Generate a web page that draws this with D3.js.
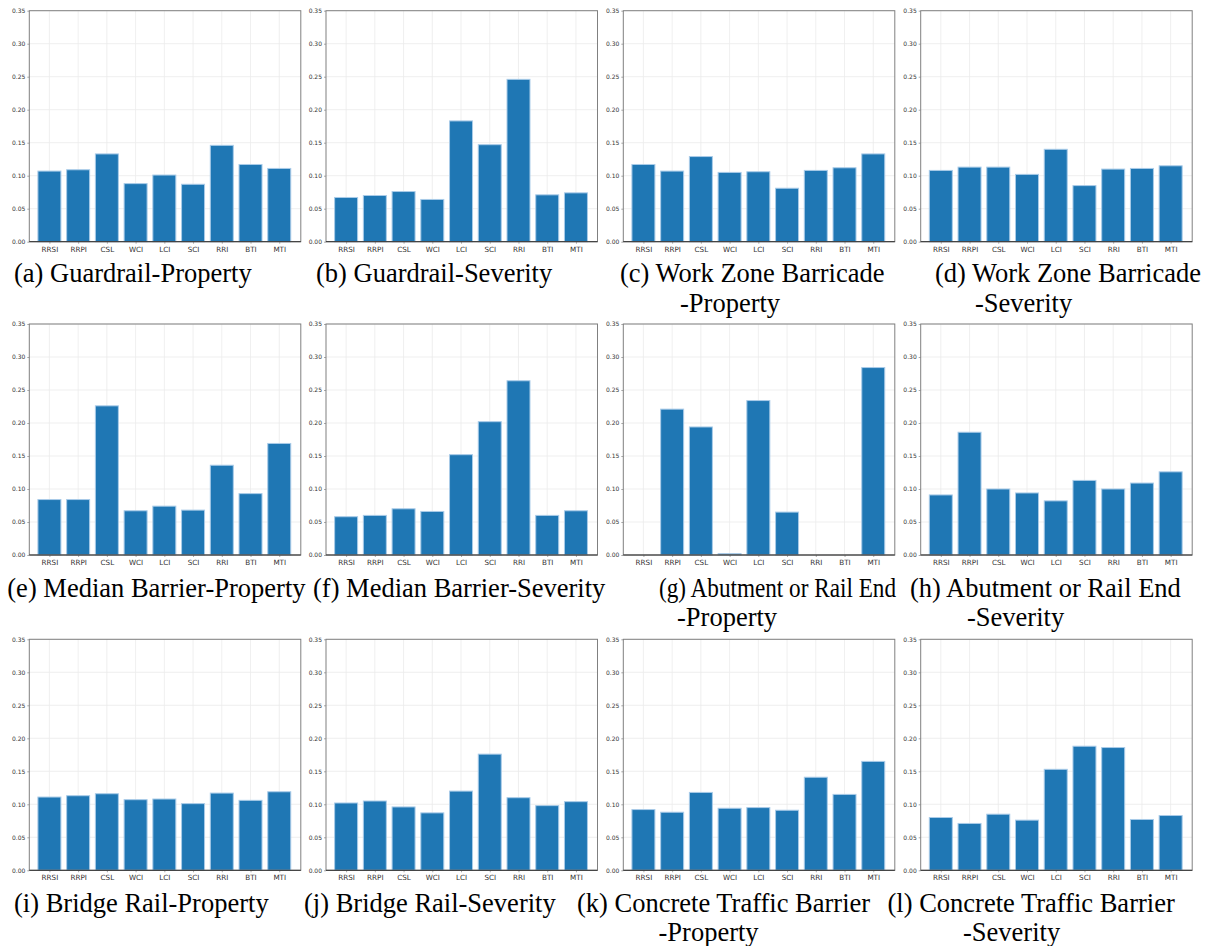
<!DOCTYPE html>
<html>
<head>
<meta charset="utf-8">
<script src="https://cdn.jsdelivr.net/npm/d3@7"></script>
<style>
  html, body { margin: 0; padding: 0; background: #fff; }
  svg { display: block; }
  .caption { font-family: "Liberation Serif", "Times New Roman", Times, "DejaVu Serif", serif; font-size: 26.5px; fill: #000; }
  .tick text { font-family: "DejaVu Sans", sans-serif; fill: #333; }
</style>
</head>
<body>
<script>
// Indicator names shared by every panel
const categories = ["RRSI", "RRPI", "CSL", "WCI", "LCI", "SCI", "RRI", "BTI", "MTI"];
const yTickValues = [0, 0.05, 0.10, 0.15, 0.20, 0.25, 0.30, 0.35];

// Importance of each indicator, one array per barrier type and outcome
const guardrailProperty       = [0.107, 0.109, 0.133, 0.088, 0.101, 0.087, 0.146, 0.117, 0.111];
const guardrailSeverity       = [0.067, 0.070, 0.076, 0.064, 0.183, 0.147, 0.246, 0.071, 0.074];
const workZoneProperty        = [0.117, 0.107, 0.129, 0.105, 0.106, 0.081, 0.108, 0.112, 0.133];
const workZoneSeverity        = [0.108, 0.113, 0.113, 0.102, 0.140, 0.085, 0.110, 0.111, 0.115];
const medianBarrierProperty   = [0.084, 0.084, 0.226, 0.067, 0.074, 0.068, 0.136, 0.093, 0.169];
const medianBarrierSeverity   = [0.058, 0.060, 0.070, 0.066, 0.152, 0.202, 0.264, 0.060, 0.067];
const abutmentProperty        = [0.000, 0.221, 0.194, 0.002, 0.234, 0.065, 0.000, 0.000, 0.284];
const abutmentSeverity        = [0.091, 0.186, 0.100, 0.094, 0.082, 0.113, 0.100, 0.109, 0.126];
const bridgeRailProperty      = [0.111, 0.113, 0.116, 0.107, 0.108, 0.101, 0.117, 0.106, 0.119];
const bridgeRailSeverity      = [0.102, 0.105, 0.096, 0.087, 0.120, 0.176, 0.110, 0.098, 0.104];
const concreteBarrierProperty = [0.092, 0.088, 0.118, 0.094, 0.095, 0.091, 0.141, 0.115, 0.165];
const concreteBarrierSeverity = [0.080, 0.071, 0.085, 0.076, 0.153, 0.188, 0.186, 0.077, 0.083];

// Sub-figure captions (one entry per caption line)
const captionA = ["(a) Guardrail-Property"];
const captionB = ["(b) Guardrail-Severity"];
const captionC = ["(c) Work Zone Barricade", "-Property"];
const captionD = ["(d) Work Zone Barricade", "-Severity"];
const captionE = ["(e) Median Barrier-Property"];
const captionF = ["(f) Median Barrier-Severity"];
const captionG = ["(g) Abutment or Rail End", "-Property"];
const captionH = ["(h) Abutment or Rail End", "-Severity"];
const captionI = ["(i) Bridge Rail-Property"];
const captionJ = ["(j) Bridge Rail-Severity"];
const captionK = ["(k) Concrete Traffic Barrier", "-Property"];
const captionL = ["(l) Concrete Traffic Barrier", "-Severity"];

const W = 1212, H = 946;
const svg = d3.select("body").append("svg")
  .attr("width", W).attr("height", H)
  .attr("viewBox", `0 0 ${W} ${H}`);
svg.append("rect").attr("width", W).attr("height", H).attr("fill", "#fff");

// Grid layout of the 3 x 4 panels
const colLeft = [29.3, 326, 623.3, 920.7];
const rowTop = [10.7, 324, 639.3];
const plotW = 271.5, plotH = 231;
const captionBaseline = [282, 596.5, 911.5];
const captionLineGap = 29.5;

// cx: left edge of each caption line; fit: optional set width for a line
const panels = [
  { values: guardrailProperty,       caption: captionA, cx: [14] },
  { values: guardrailSeverity,       caption: captionB, cx: [316] },
  { values: workZoneProperty,        caption: captionC, cx: [620, 680] },
  { values: workZoneSeverity,        caption: captionD, cx: [935, 975] },
  { values: medianBarrierProperty,   caption: captionE, cx: [7.3] },
  { values: medianBarrierSeverity,   caption: captionF, cx: [313] },
  { values: abutmentProperty,        caption: captionG, cx: [659, 677], fit: [237, null] },
  { values: abutmentSeverity,        caption: captionH, cx: [910, 967] },
  { values: bridgeRailProperty,      caption: captionI, cx: [14] },
  { values: bridgeRailSeverity,      caption: captionJ, cx: [304] },
  { values: concreteBarrierProperty, caption: captionK, cx: [577, 658.5] },
  { values: concreteBarrierSeverity, caption: captionL, cx: [887.5, 963] }
];

panels.forEach((p, i) => {
  const col = i % 4, row = Math.floor(i / 4);
  const x0 = colLeft[col], y0 = rowTop[row];
  const g = svg.append("g").attr("transform", `translate(${x0},${y0})`);

  const x = d3.scaleLinear().domain([-0.7, categories.length - 1 + 0.75]).range([0, plotW]);
  const y = d3.scaleLinear().domain([0, 0.35]).range([plotH, 0]);
  const barW = x(0.8) - x(0);

  // light grid
  g.append("g").selectAll("line").data(yTickValues).join("line")
    .attr("x1", 0).attr("x2", plotW)
    .attr("y1", d => y(d)).attr("y2", d => y(d))
    .attr("stroke", "#ebebeb").attr("stroke-width", 0.8);
  g.append("g").selectAll("line").data(categories).join("line")
    .attr("x1", (d, k) => x(k)).attr("x2", (d, k) => x(k))
    .attr("y1", 0).attr("y2", plotH)
    .attr("stroke", "#ebebeb").attr("stroke-width", 0.8);

  // bars
  g.append("g").selectAll("rect").data(p.values).join("rect")
    .attr("x", (d, k) => x(k) - barW / 2)
    .attr("y", d => y(d))
    .attr("width", barW)
    .attr("height", d => plotH - y(d))
    .attr("fill", "#1f77b4")
    .attr("stroke", d => d > 0 ? "#a9cbe8" : "none")
    .attr("stroke-width", 1);

  // axes
  const yAxis = d3.axisLeft(y).tickValues(yTickValues).tickFormat(d3.format(".2f")).tickSize(2).tickPadding(2);
  const ya = g.append("g").call(yAxis).attr("font-family", null);
  ya.select(".domain").remove();
  ya.selectAll(".tick line").attr("stroke", "#aaa");
  ya.selectAll("text").attr("font-size", 6).attr("fill", "#333");

  const xAxis = d3.axisBottom(x).tickValues(d3.range(categories.length))
    .tickFormat(k => categories[k]).tickSize(2).tickPadding(3);
  const xa = g.append("g").attr("transform", `translate(0,${plotH})`).call(xAxis).attr("font-family", null);
  xa.select(".domain").remove();
  xa.selectAll(".tick line").attr("stroke", "#aaa");
  xa.selectAll("text").attr("font-size", 7.2).attr("fill", "#333");

  // frame
  g.append("rect").attr("x", 0).attr("y", 0).attr("width", plotW).attr("height", plotH)
    .attr("fill", "none").attr("stroke", "#808080").attr("stroke-width", 1);
  g.append("line").attr("x1", 0).attr("x2", plotW).attr("y1", plotH).attr("y2", plotH)
    .attr("stroke", "#333").attr("stroke-width", 1);

  // caption
  p.caption.forEach((line, li) => {
    const t = svg.append("text")
      .attr("class", "caption")
      .attr("x", p.cx[li])
      .attr("y", captionBaseline[row] + li * captionLineGap)
      .text(line);
    if (p.fit && p.fit[li]) {
      t.attr("textLength", p.fit[li]).attr("lengthAdjust", "spacingAndGlyphs");
    }
  });
});
</script>
</body>
</html>
